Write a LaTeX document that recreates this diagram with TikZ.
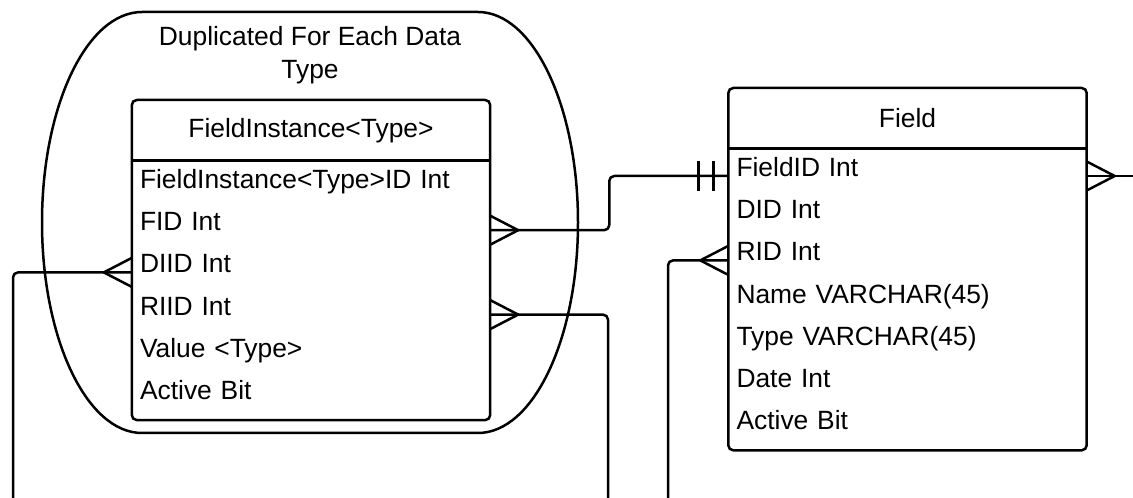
\documentclass[tikz,border=0pt]{standalone}
\usepackage{fontspec}
\setmainfont{Liberation Sans}
\usetikzlibrary{positioning,calc,fit}

\tikzset{
  crowfoot/.pic={\draw[erline] (0,14.5) -- (28,0) -- (0,-14.5);},
  onlyone/.pic={\draw[erline] (-15,-15) -- (-15,15) (-30,-15) -- (-30,15);}
}

\begin{document}
\begin{tikzpicture}[x=1pt, y=1pt, node distance=0pt,
  every node/.style={font=\fontsize{26.4}{33}\selectfont},
  erline/.style={line width=2.5pt, line join=round},
  tablebox/.style={draw, line width=2.5pt, rounded corners=5pt, inner sep=0pt},
  tablehead/.style={minimum width=358pt, minimum height=60pt, anchor=north, inner sep=0pt},
  row/.style={text width=342pt, inner xsep=8pt, inner ysep=0pt, text height=21.35pt, text depth=20.45pt, align=left}]
  \useasboundingbox (0,0) rectangle (1133,498);

  % group round the duplicated table
  \draw[erline] (142,486) -- (478,486) arc[start angle=90, end angle=-90, x radius=100, y radius=210.5]
    -- (142,65) arc[start angle=270, end angle=90, x radius=100, y radius=210.5] -- cycle;
  \node[align=center, inner sep=0pt] (grouplbl) at (310,443) {Duplicated For Each Data\\Type};

  % FieldInstance<Type>
  \node[tablehead] (fihead) at (311,398) {FieldInstance<Type>};
  \node[row, below=6.5pt of fihead] (fiid) {FieldInstance<Type>ID Int};
  \node[row, below=of fiid] (fid) {FID Int};
  \node[row, below=of fid] (diid) {DIID Int};
  \node[row, below=of diid] (riid) {RIID Int};
  \node[row, below=of riid] (fival) {Value <Type>};
  \node[row, below=of fival] (fiact) {Active Bit};
  \node[tablebox, fit=(fihead)(fiact)] (fi) {};
  \draw[erline] (fihead.south west) -- (fihead.south east);

  % Field
  \node[tablehead] (fldhead) at (907.5,410) {Field};
  \node[row, below=6.5pt of fldhead] (fldid) {FieldID Int};
  \node[row, below=of fldid] (flddid) {DID Int};
  \node[row, below=of flddid] (fldrid) {RID Int};
  \node[row, below=of fldrid] (fldname) {Name VARCHAR(45)};
  \node[row, below=of fldname] (fldtype) {Type VARCHAR(45)};
  \node[row, below=of fldtype] (flddate) {Date Int};
  \node[row, below=of flddate] (fldact) {Active Bit};
  \node[tablebox, fit=(fldhead)(fldact)] (fld) {};
  \draw[erline] (fldhead.south west) -- (fldhead.south east);

  % relationships
  \coordinate (jog) at ($(fid.east)!.5!(fldid.west)$);
  \coordinate (riidfoot) at (608,0);
  \coordinate (diidfoot) at (13,0);
  \coordinate (ridfoot) at (668,0);
  \coordinate (fieldout) at ([xshift=46pt]fldid.east);
  \draw[erline, rounded corners=5pt] (fid.east) -- (fid.east -| jog) -- (jog |- fldid.west) -- (fldid.west);
  \draw[erline, rounded corners=5pt] (riid.east) -| (riidfoot);
  \draw[erline, rounded corners=5pt] (diid.west) -| (diidfoot);
  \draw[erline, rounded corners=5pt] (fldrid.west) -| (ridfoot);
  \draw[erline] (fldid.east) -- (fieldout);

  \pic at (fid.east) {crowfoot};
  \pic at (riid.east) {crowfoot};
  \pic at (fldid.east) {crowfoot};
  \pic[xscale=-1] at (diid.west) {crowfoot};
  \pic[xscale=-1] at (fldrid.west) {crowfoot};
  \pic at (fldid.west) {onlyone};
\end{tikzpicture}
\end{document}
